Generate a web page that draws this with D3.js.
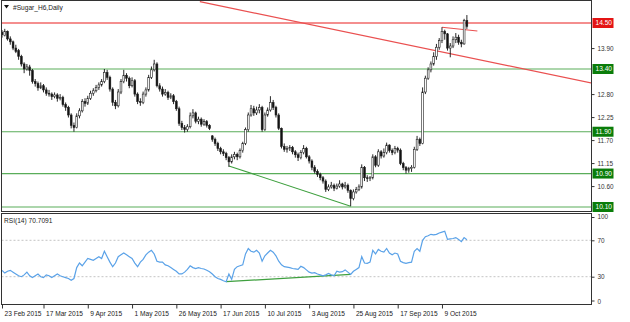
<!DOCTYPE html>
<html>
<head>
<meta charset="utf-8">
<script src="https://cdn.jsdelivr.net/npm/d3@7"></script>
<style>
  body { margin: 0; background: #fff; }
  svg { display: block; font-family: "Liberation Sans", Arial, sans-serif; }
</style>
</head>
<body>
<div class="chart-container"></div>
<script>
// daily candles, [open, high, low, close]
const candles = [
  [14.28,14.33,14.15,14.22],[14.20,14.36,14.18,14.30],[14.30,14.32,14.08,14.12],[14.12,14.18,13.98,14.05],
  [14.05,14.08,13.85,13.90],[13.90,13.98,13.78,13.82],[13.84,13.88,13.62,13.70],[13.70,13.74,13.46,13.52],
  [13.52,13.56,13.30,13.40],[13.40,13.52,13.36,13.45],[13.45,13.50,13.24,13.36],[13.36,13.40,13.05,13.10],
  [13.10,13.16,12.98,13.05],[13.05,13.10,12.88,12.95],[12.95,13.08,12.92,13.00],[13.00,13.04,12.84,12.90],
  [12.90,12.96,12.76,12.82],[12.82,12.90,12.74,12.80],[12.80,12.84,12.66,12.74],[12.74,12.84,12.70,12.78],
  [12.78,12.82,12.62,12.70],[12.70,12.80,12.65,12.72],[12.72,12.76,12.50,12.55],[12.55,12.60,12.40,12.48],
  [12.48,12.52,12.24,12.30],[12.30,12.34,11.98,12.05],[12.05,12.12,11.90,12.00],[12.00,12.34,11.98,12.28],
  [12.28,12.46,12.22,12.40],[12.40,12.68,12.36,12.62],[12.62,12.70,12.50,12.58],[12.58,12.76,12.54,12.70],
  [12.70,12.88,12.66,12.82],[12.82,12.94,12.76,12.88],[12.88,13.02,12.84,12.96],[12.96,13.08,12.90,13.02],
  [13.02,13.16,12.98,13.10],[13.10,13.40,13.06,13.32],[13.32,13.38,13.14,13.20],[13.20,13.24,12.86,12.92],
  [12.92,12.96,12.52,12.60],[12.60,12.66,12.44,12.52],[12.52,12.92,12.48,12.85],[12.85,13.16,12.80,13.10],
  [13.10,13.38,13.06,13.25],[13.25,13.30,13.10,13.18],[13.18,13.22,12.94,13.00],[13.00,13.20,12.96,13.12],
  [13.12,13.16,12.74,12.80],[12.80,12.84,12.56,12.62],[12.62,12.70,12.52,12.60],[12.60,12.86,12.56,12.80],
  [12.80,12.96,12.74,12.90],[12.90,13.26,12.86,13.20],[13.20,13.46,13.16,13.38],[13.38,13.62,13.34,13.52],
  [13.52,13.56,12.96,13.00],[13.00,13.06,12.86,12.92],[12.92,12.98,12.74,12.80],[12.80,12.92,12.76,12.84],
  [12.84,12.88,12.66,12.72],[12.72,12.82,12.68,12.76],[12.76,12.80,12.56,12.62],[12.62,12.66,12.40,12.45],
  [12.45,12.50,12.04,12.10],[12.10,12.16,11.94,12.00],[12.00,12.06,11.88,11.95],[11.95,12.08,11.90,12.02],
  [12.02,12.36,11.98,12.28],[12.28,12.44,12.22,12.35],[12.35,12.38,12.10,12.15],[12.15,12.26,12.08,12.20],
  [12.20,12.24,12.02,12.08],[12.08,12.20,12.04,12.14],[12.14,12.18,12.00,12.05],[12.05,12.08,11.94,11.98],
  [11.80,11.82,11.66,11.72],[11.72,11.76,11.56,11.62],[11.62,11.66,11.44,11.50],[11.50,11.54,11.36,11.42],
  [11.42,11.48,11.32,11.38],[11.38,11.42,11.22,11.28],[11.28,11.32,11.06,11.18],[11.18,11.36,11.14,11.30],
  [11.30,11.42,11.24,11.36],[11.36,11.40,11.22,11.30],[11.30,11.50,11.26,11.45],[11.45,11.66,11.40,11.62],
  [11.62,12.00,11.58,11.95],[11.95,12.36,11.90,12.30],[12.30,12.54,12.26,12.45],[12.45,12.52,12.28,12.35],
  [12.35,12.50,12.30,12.42],[12.42,12.56,12.34,12.48],[12.48,12.52,11.90,11.95],[11.95,12.36,11.92,12.30],
  [12.30,12.48,12.26,12.42],[12.42,12.75,12.38,12.60],[12.60,12.66,12.42,12.48],[12.48,12.52,12.24,12.30],
  [12.30,12.34,11.94,11.98],[11.98,12.00,11.50,11.55],[11.55,11.62,11.42,11.48],[11.48,11.56,11.40,11.50],
  [11.50,11.58,11.44,11.52],[11.52,11.56,11.36,11.42],[11.42,11.46,11.28,11.35],[11.35,11.40,11.20,11.28],
  [11.28,11.46,11.24,11.40],[11.40,11.58,11.36,11.50],[11.50,11.54,11.26,11.30],[11.30,11.34,11.14,11.20],
  [11.20,11.24,10.98,11.05],[11.05,11.10,10.90,10.95],[10.95,11.00,10.82,10.88],[10.88,10.92,10.74,10.80],
  [10.80,10.84,10.66,10.72],[10.72,10.76,10.46,10.52],[10.52,10.64,10.48,10.58],[10.58,10.70,10.54,10.62],
  [10.62,10.66,10.48,10.55],[10.55,10.66,10.52,10.60],[10.60,10.74,10.56,10.65],[10.65,10.68,10.52,10.58],
  [10.58,10.70,10.54,10.62],[10.62,10.66,10.44,10.50],[10.50,10.52,10.12,10.30],[10.30,10.52,10.26,10.46],
  [10.46,10.58,10.42,10.52],[10.52,10.64,10.48,10.58],[10.58,11.12,10.54,11.05],[11.05,11.08,10.72,10.80],
  [10.80,10.86,10.70,10.78],[10.78,10.84,10.72,10.80],[10.80,11.36,10.76,11.30],[11.30,11.34,11.05,11.10],
  [11.10,11.48,11.06,11.42],[11.42,11.46,11.26,11.32],[11.32,11.50,11.28,11.40],[11.40,11.64,11.36,11.58],
  [11.58,11.60,11.40,11.45],[11.45,11.50,11.34,11.40],[11.40,11.56,11.36,11.50],[11.50,11.54,11.40,11.46],
  [11.46,11.50,11.10,11.14],[11.14,11.18,10.98,11.04],[11.04,11.08,10.90,10.98],[10.98,11.06,10.92,11.02],
  [11.02,11.10,10.94,11.05],[11.05,11.54,11.02,11.48],[11.48,11.80,11.44,11.72],[11.72,11.76,11.56,11.62],
  [11.62,12.96,11.60,12.85],[12.85,13.24,12.80,13.18],[13.18,13.44,13.14,13.38],[13.38,13.58,13.32,13.52],
  [13.52,13.80,13.48,13.70],[13.70,14.00,13.62,13.92],[13.92,14.14,13.86,14.08],[14.08,14.40,14.02,14.30],
  [14.30,14.34,14.10,14.24],[14.24,14.26,13.84,13.90],[13.90,14.02,13.68,13.95],[13.95,14.18,13.90,14.10],
  [14.10,14.26,14.02,14.16],[14.16,14.22,13.98,14.04],[14.04,14.10,13.92,14.00],[14.00,14.60,13.98,14.56],
  [14.56,14.69,14.36,14.42]
];

// RSI(14) per bar
const rsiValues = [
  37,34,36,37,35,33,31,30,32,35, 31,29,31,33,30,29,32,31,29,31,
  33,31,30,29,28,26,28,40,45,42, 46,50,49,48,50,52,50,58,52,46,
  41,45,52,54,56,54,52,50,45,41, 46,49,54,57,59,55,47,46,46,43,
  42,40,38,36,33,33,35,38,42,40, 39,40,39,38.5,37,35.5,33,30,28,27,
  25.5,24.5,33,27,38,41,42,43,55,61, 58,57,59,56,47,53,56,59,57,53,
  47,43,41,40.5,40,39,38.5,38,41.5,40, 37.5,35,34,34.5,33,32,31,32,33.5,32,
  31,36,35,35.5,37.5,35,32.5,36,38,40, 52,45,44.7,46,59,55,60,58,57,61,
  56,54,56,55,47,45.5,44.7,45.4,46,58, 61,58,70,74,75,76.6,76,76.5,78,79,
  80,71,71.5,72,73,71,68.5,73,70.7091
];

const dateTicks = [0, 15, 31, 47, 63, 79, 95, 111, 127, 143, 159];
const dateLabels = ['23 Feb 2015', '17 Mar 2015', '9 Apr 2015', '1 May 2015', '26 May 2015',
  '17 Jun 2015', '10 Jul 2015', '3 Aug 2015', '25 Aug 2015', '17 Sep 2015', '9 Oct 2015'];

// visible price grid labels (the others sit under the level boxes)
const priceTicks = [10.60, 11.15, 11.70, 12.25, 12.80, 13.90];
const resistanceLevels = [14.50];
const supportLevels = [13.40, 11.90, 10.90, 10.10];
const rsiLevels = [30, 70];
const rsiTicks = [0, 30, 70, 100];

// trendlines as [bar, value] anchor pairs
const redRay = [[71.5, 15.01], [110.1, 14.48]];
const redShort = [[159, 14.40], [171.8, 14.31]];
const priceGreen = [[82, 11.08], [126, 10.12]];
const rsiGreen = [[81, 24.5], [126, 32.5]];

const title = '#Sugar_H6,Daily';
const rsiTitle = 'RSI(14) ' + rsiValues[rsiValues.length - 1].toFixed(4);

// layout
const width = 630, height = 322;
const left = 1.5, right = 591.5;
const mainTop = 0.5, mainBottom = 211.5;
const rsiTop = 213.5, rsiBottom = 304.5;

const svg = d3.select('.chart-container')
  .append('svg')
  .attr('width', width)
  .attr('height', height);

// scales
const xScale = d3.scaleLinear().domain([0, 213]).range([2, 591.4]);
const yScale = d3.scaleLinear().domain([10.10, 14.50]).range([207, 23]);
const rsiScale = d3.scaleLinear().domain([0, 100]).range([304, 213]);

// clip paths
const defs = svg.append('defs');
defs.append('clipPath').attr('id', 'clip-main')
  .append('rect').attr('x', left).attr('y', mainTop).attr('width', right - left).attr('height', mainBottom - mainTop);
defs.append('clipPath').attr('id', 'clip-rsi')
  .append('rect').attr('x', left).attr('y', rsiTop).attr('width', right - left).attr('height', rsiBottom - rsiTop);

const main = svg.append('g').attr('clip-path', 'url(#clip-main)');
const rsiG = svg.append('g').attr('clip-path', 'url(#clip-rsi)');

// horizontal levels
main.selectAll('.res')
  .data(resistanceLevels)
  .join('line')
  .attr('x1', left).attr('x2', right)
  .attr('y1', d => yScale(d)).attr('y2', d => yScale(d))
  .style('stroke', '#f06868').style('stroke-width', 1.4);

main.selectAll('.sup')
  .data(supportLevels)
  .join('line')
  .attr('x1', left).attr('x2', right)
  .attr('y1', d => yScale(d)).attr('y2', d => yScale(d))
  .style('stroke', '#5aad5a').style('stroke-width', 1.2);

// trendlines
function rayEnd(p, xMax) {
  const slope = (p[1][1] - p[0][1]) / (p[1][0] - p[0][0]);
  return [xMax, p[0][1] + slope * (xMax - p[0][0])];
}
const redRayPts = [redRay[0], rayEnd(redRay, 214)];
main.append('line')
  .attr('x1', xScale(redRayPts[0][0])).attr('y1', yScale(redRayPts[0][1]))
  .attr('x2', xScale(redRayPts[1][0])).attr('y2', yScale(redRayPts[1][1]))
  .style('stroke', '#ea5050').style('stroke-width', 1.2);

main.append('line')
  .attr('x1', xScale(redShort[0][0])).attr('y1', yScale(redShort[0][1]))
  .attr('x2', xScale(redShort[1][0])).attr('y2', yScale(redShort[1][1]))
  .style('stroke', '#ea5050').style('stroke-width', 1.1);

main.append('line')
  .attr('x1', xScale(priceGreen[0][0])).attr('y1', yScale(priceGreen[0][1]))
  .attr('x2', xScale(priceGreen[1][0])).attr('y2', yScale(priceGreen[1][1]))
  .style('stroke', '#3fa03f').style('stroke-width', 1.1);

// candles
const bars = main.selectAll('.candle')
  .data(candles)
  .join('g')
  .attr('class', 'candle');

bars.append('line')
  .attr('x1', (d, i) => xScale(i)).attr('x2', (d, i) => xScale(i))
  .attr('y1', d => yScale(d[1])).attr('y2', d => yScale(d[2]))
  .style('stroke', '#111').style('stroke-width', 0.9);

bars.append('rect')
  .attr('x', (d, i) => xScale(i) - 0.9)
  .attr('width', 1.8)
  .attr('y', d => yScale(Math.max(d[0], d[3])))
  .attr('height', d => Math.max(0.8, Math.abs(yScale(d[0]) - yScale(d[3]))))
  .style('fill', d => d[3] >= d[0] ? '#fff' : '#111')
  .style('stroke', '#222')
  .style('stroke-width', 0.6);

// rsi levels
rsiG.selectAll('.lvl')
  .data(rsiLevels)
  .join('line')
  .attr('x1', left).attr('x2', right)
  .attr('y1', d => rsiScale(d)).attr('y2', d => rsiScale(d))
  .style('stroke', '#c4c4c4').style('stroke-width', 1)
  .style('stroke-dasharray', '2,2');

rsiG.append('line')
  .attr('x1', xScale(rsiGreen[0][0])).attr('y1', rsiScale(rsiGreen[0][1]))
  .attr('x2', xScale(rsiGreen[1][0])).attr('y2', rsiScale(rsiGreen[1][1]))
  .style('stroke', '#3fa03f').style('stroke-width', 1.2);

rsiG.append('path')
  .datum(rsiValues)
  .attr('d', d3.line().x((d, i) => xScale(i)).y(d => rsiScale(d)))
  .style('fill', 'none')
  .style('stroke', '#5aa2e8')
  .style('stroke-width', 1.2);

// panel frames
svg.append('rect')
  .attr('x', left).attr('y', mainTop).attr('width', right - left).attr('height', mainBottom - mainTop)
  .style('fill', 'none').style('stroke', '#333').style('stroke-width', 1);
svg.append('rect')
  .attr('x', left).attr('y', rsiTop).attr('width', right - left).attr('height', rsiBottom - rsiTop)
  .style('fill', 'none').style('stroke', '#333').style('stroke-width', 1);

// price axis
const yAxis = d3.axisRight(yScale)
  .tickValues(priceTicks)
  .tickFormat(d3.format('.2f'))
  .tickSize(3)
  .tickPadding(3);
const yAxisDraw = svg.append('g')
  .attr('transform', `translate(${right}, 0)`)
  .call(yAxis);
yAxisDraw.select('.domain').remove();
yAxisDraw.selectAll('text').style('font-size', '6.4px').style('fill', '#333');
yAxisDraw.selectAll('line').style('stroke', '#333');

// rsi axis
const rAxis = d3.axisRight(rsiScale)
  .tickValues(rsiTicks)
  .tickSize(3)
  .tickPadding(3);
const rAxisDraw = svg.append('g')
  .attr('transform', `translate(${right}, 0)`)
  .call(rAxis);
rAxisDraw.select('.domain').remove();
rAxisDraw.selectAll('text').style('font-size', '6.4px').style('fill', '#333')
  .attr('dy', d => d === 100 ? '0.9em' : d === 0 ? '-0.1em' : '0.32em');
rAxisDraw.selectAll('line').style('stroke', '#333')
  .attr('transform', d => d === 100 ? 'translate(0,4)' : d === 0 ? 'translate(0,-3.5)' : null);

// level labels
function levelLabel(value, color) {
  const g = svg.append('g').attr('transform', `translate(${right + 1}, ${yScale(value)})`);
  g.append('rect').attr('x', 0).attr('y', -5).attr('width', 21).attr('height', 10).style('fill', color);
  g.append('text').attr('x', 3).attr('y', 0).attr('dy', '0.34em')
    .style('font-size', '6.6px').style('fill', '#fff').text(d3.format('.2f')(value));
}
resistanceLevels.forEach(v => levelLabel(v, '#e41414'));
supportLevels.forEach(v => levelLabel(v, '#0a7d0a'));

// time axis
const xAxis = d3.axisBottom(xScale)
  .tickValues(dateTicks)
  .tickFormat((d, i) => dateLabels[i])
  .tickSize(4)
  .tickPadding(3);
const xAxisDraw = svg.append('g')
  .attr('transform', `translate(0, ${rsiBottom})`)
  .call(xAxis);
xAxisDraw.select('.domain').remove();
xAxisDraw.selectAll('line').style('stroke', '#333');
xAxisDraw.selectAll('text')
  .style('text-anchor', 'start')
  .attr('x', 2)
  .style('font-size', '6.6px')
  .style('fill', '#222');

// titles
svg.append('path')
  .attr('d', 'M4,5 L9,5 L6.5,8.5 Z')
  .style('fill', '#111');
svg.append('text')
  .attr('x', 13).attr('y', 9.5)
  .style('font-size', '6.6px').style('fill', '#222')
  .text(title);
svg.append('text')
  .attr('x', 4).attr('y', 222.5)
  .style('font-size', '6.6px').style('fill', '#222')
  .text(rsiTitle);
</script>
</body>
</html>
